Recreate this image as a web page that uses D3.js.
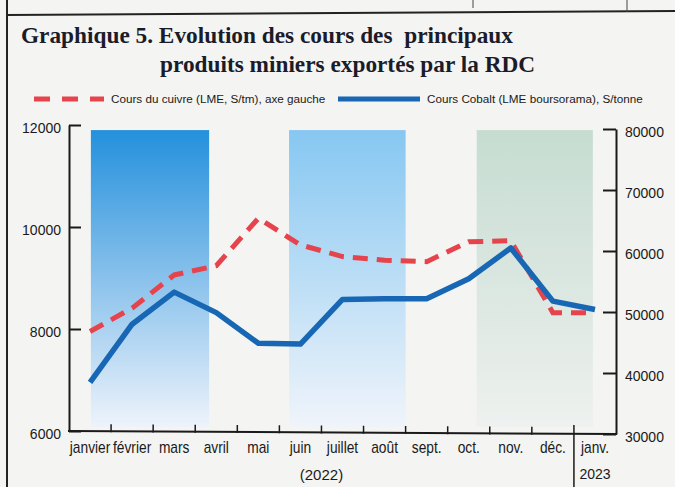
<!DOCTYPE html>
<html>
<head>
<meta charset="utf-8">
<script src="https://cdn.jsdelivr.net/npm/d3@7"></script>
<style>
  body { margin:0; background:#f4f4f2; }
  svg { display:block; }
  .axis text { font-family:"Liberation Sans", Arial, sans-serif; fill:#1a1a1a; }
  .title { font-family:"Liberation Serif", "DejaVu Serif", serif; font-weight:bold; fill:#1b1c2a; white-space:pre; }
  .legendtext { font-family:"Liberation Sans", Arial, sans-serif; font-size:11.7px; fill:#1a1a1a; }
</style>
</head>
<body>
<svg id="chart" width="675" height="487"></svg>
<script>
// donnees
var mois = ['janvier','février','mars','avril','mai','juin','juillet','août','sept.','oct.','nov.','déc.','janv.'];
var cuivre = [7950, 8410, 9060, 9240, 10170, 9650, 9420, 9350, 9320, 9710, 9730, 8320, 8320];
var cobalt = [38450, 48000, 53260, 49900, 44870, 44750, 52060, 52170, 52170, 55440, 60500, 51780, 50400];
var ticksGauche = [6000, 8000, 10000, 12000];
var ticksDroite = [30000, 40000, 50000, 60000, 70000, 80000];
// bandes de fond, en unites de categories (0 = bord gauche)
var bandesDebut = [0.52, 5.23, 9.69];
var bandesFin = [3.33, 8.0, 12.45];
var bandesCouleur = [['#2490dc', '#eef3fb'], ['#86c7f1', '#f0f4fa'], ['#c6dcd1', '#eef1ef']];

var svg = d3.select('#chart');

var x = d3.scaleBand().domain(mois).range([69, 616]);
var xu = d3.scaleLinear().domain([0, 13]).range([69, 616]);
var yL = d3.scaleLinear().domain([6000, 12000]).range([431, 125]);
var yR = d3.scaleLinear().domain([30000, 80000]).range([434, 129]);

// cadre scanne
svg.append('line').attr('x1', 7).attr('y1', 0).attr('x2', 7).attr('y2', 487)
  .style('stroke', '#222').style('stroke-width', 2);
svg.append('line').attr('x1', 7).attr('y1', 15).attr('x2', 675).attr('y2', 11)
  .style('stroke', '#222').style('stroke-width', 2);
svg.append('line').attr('x1', 473).attr('y1', 0).attr('x2', 473).attr('y2', 8)
  .style('stroke', '#444').style('stroke-width', 1);
svg.append('line').attr('x1', 627).attr('y1', 0).attr('x2', 627).attr('y2', 12)
  .style('stroke', '#444').style('stroke-width', 1);

// titre
svg.append('text').attr('class', 'title').attr('x', 21).attr('y', 43)
  .style('font-size', '23.3px')
  .text('Graphique 5. Evolution des cours des  principaux');
svg.append('text').attr('class', 'title').attr('x', 160).attr('y', 72)
  .style('font-size', '23.3px')
  .text('produits miniers exportés par la RDC');

// legende
var legend = svg.append('g');
legend.append('line').attr('x1', 34).attr('y1', 99).attr('x2', 104).attr('y2', 99)
  .style('stroke', '#e6444c').style('stroke-width', 5)
  .style('stroke-dasharray', '16,12');
legend.append('text').attr('class', 'legendtext').attr('x', 111).attr('y', 103)
  .text('Cours du cuivre (LME, S/tm), axe gauche');
legend.append('line').attr('x1', 338).attr('y1', 99).attr('x2', 420).attr('y2', 99)
  .style('stroke', '#1767b4').style('stroke-width', 5);
legend.append('text').attr('class', 'legendtext').attr('x', 427).attr('y', 103)
  .text('Cours Cobalt (LME boursorama), S/tonne');

// degrades des bandes
var defs = svg.append('defs');
bandesCouleur.forEach(function(c, i) {
  var g = defs.append('linearGradient').attr('id', 'bande' + i)
    .attr('x1', 0).attr('y1', 0).attr('x2', 0).attr('y2', 1);
  g.append('stop').attr('offset', '0%').attr('stop-color', c[0]);
  g.append('stop').attr('offset', '100%').attr('stop-color', c[1]);
});

svg.append('g').selectAll('rect')
  .data(bandesDebut)
  .join('rect')
  .attr('x', function(d) { return xu(d); })
  .attr('y', yL(11900))
  .attr('width', function(d, i) { return xu(bandesFin[i]) - xu(d); })
  .attr('height', yL(6000) - yL(11900) - 4)
  .style('fill', function(d, i) { return 'url(#bande' + i + ')'; });

// axe gauche
var axeG = svg.append('g').attr('class', 'axis')
  .attr('transform', 'translate(69,0)')
  .call(d3.axisLeft(yL).tickValues(ticksGauche).tickFormat(d3.format('d'))
    .tickSize(-12).tickPadding(8).tickSizeOuter(0));
axeG.selectAll('text').style('font-size', '14px').attr('dy', '0.55em');

// axe droit
var axeD = svg.append('g').attr('class', 'axis')
  .attr('transform', 'translate(616,0)')
  .call(d3.axisRight(yR).tickValues(ticksDroite).tickFormat(d3.format('d'))
    .tickSize(-13).tickPadding(9).tickSizeOuter(0));
axeD.selectAll('text').style('font-size', '14px').attr('dy', '0.55em');

svg.selectAll('.axis path, .axis line').style('stroke', '#1a1a1a').style('stroke-width', 2);

// axe des x
svg.append('line')
  .attr('x1', 68).attr('y1', yL(6000)).attr('x2', 617).attr('y2', yR(30000))
  .style('stroke', '#1a1a1a').style('stroke-width', 2);

var bordures = d3.range(1, mois.length);
svg.append('g').selectAll('line')
  .data(bordures)
  .join('line')
  .attr('x1', function(d) { return x.range()[0] + d * x.step(); })
  .attr('x2', function(d) { return x.range()[0] + d * x.step(); })
  .attr('y1', function(d) { return d === 12 ? 425 : 424 + d * 0.25; })
  .attr('y2', function(d) { return d === 12 ? 487 : 432 + d * 0.25; })
  .style('stroke', '#1a1a1a').style('stroke-width', 1.5);

var axeX = svg.append('g').attr('class', 'axis')
  .attr('transform', 'translate(0,432)')
  .call(d3.axisBottom(x).tickSize(0).tickPadding(10));
axeX.select('.domain').remove();
// police etroite : on compresse horizontalement
axeX.selectAll('text').style('font-size', '16px').attr('dy', '0.71em')
  .attr('transform', 'scale(0.86,1)');

svg.append('text')
  .attr('x', (x('janvier') + x('déc.') + x.bandwidth()) / 2).attr('y', 480)
  .attr('text-anchor', 'middle')
  .style('font-family', '"Liberation Sans", Arial, sans-serif')
  .style('font-size', '15px').style('fill', '#1a1a1a')
  .text('(2022)');
svg.append('text')
  .attr('x', x('janv.') + x.bandwidth() / 2).attr('y', 479)
  .attr('text-anchor', 'middle')
  .style('font-family', '"Liberation Sans", Arial, sans-serif')
  .style('font-size', '14px').style('fill', '#1a1a1a')
  .text('2023');

// courbes
var ligneCuivre = d3.line()
  .x(function(d, i) { return x(mois[i]) + x.bandwidth() / 2; })
  .y(function(d) { return yL(d); });
var ligneCobalt = d3.line()
  .x(function(d, i) { return x(mois[i]) + x.bandwidth() / 2; })
  .y(function(d) { return yR(d); });

svg.append('path').datum(cuivre)
  .attr('d', ligneCuivre)
  .style('fill', 'none')
  .style('stroke', '#e6444c')
  .style('stroke-width', 5)
  .style('stroke-dasharray', '15,9');

svg.append('path').datum(cobalt)
  .attr('d', ligneCobalt)
  .style('fill', 'none')
  .style('stroke', '#1767b4')
  .style('stroke-width', 5.5)
  .style('stroke-linejoin', 'round');
</script>
</body>
</html>
